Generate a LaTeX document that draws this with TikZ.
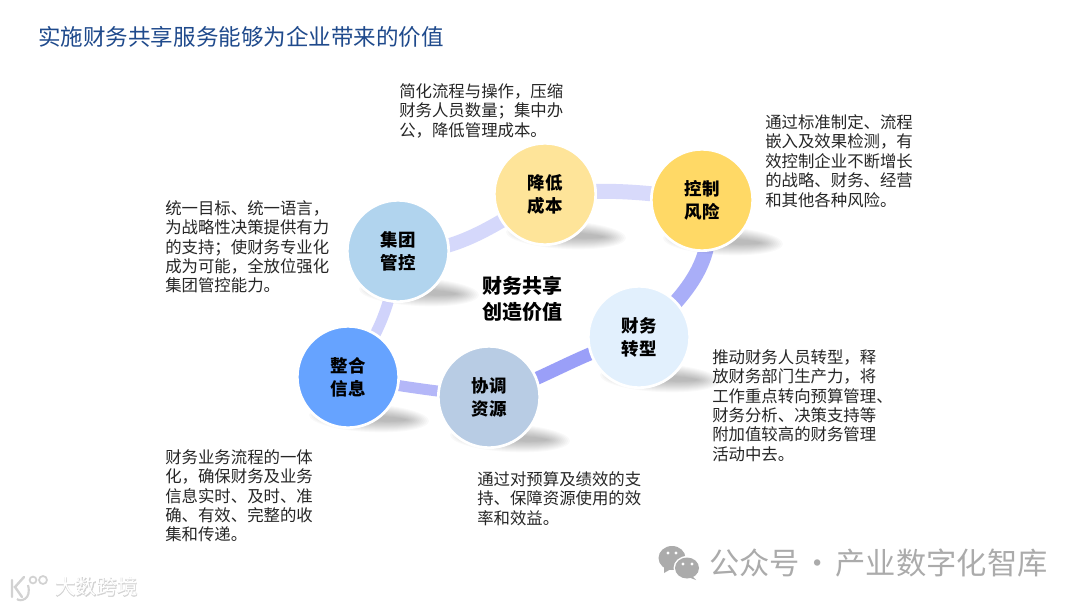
\documentclass[tikz,border=0pt]{standalone}
\usepackage{fontspec}
\setmainfont{Noto Sans CJK SC}
\newfontfamily\wmfont{Noto Sans CJK SC}[FakeBold=2.5]
\usetikzlibrary{fadings}
\definecolor{titleblue}{HTML}{1F4A8C}
\definecolor{bodytext}{HTML}{262626}
\definecolor{wmgray}{HTML}{ABABAB}
\newcommand{\tightlines}{\lineskiplimit -20pt\relax}
\normallineskiplimit -20pt\relax
\AtBeginDocument{\lineskiplimit -20pt\relax}
\tikzset{
  x=0.75pt,y=-0.75pt,
  ball/.style={circle,minimum size=76pt,inner sep=0pt,draw=white,line width=2pt,font=\fontsize{13.1pt}{17.3pt}\selectfont\bfseries\tightlines,align=center,text=black},
  note/.style={anchor=north west,inner sep=0pt,align=left,text=bodytext,font=\fontsize{12.3pt}{14.6pt}\selectfont\tightlines},
  link/.style={line width=#1*0.75pt},
}
\newcommand{\shadowat}[2]{%
  \foreach \k in {1,...,12}{
    \fill[black,opacity=0.025,rotate around={-3:(#1,#2)}] (#1,#2) ellipse ({(36+2*\k)*0.75pt} and {(2+1*\k)*0.75pt});
  }}
\begin{document}
\begin{tikzpicture}
\useasboundingbox (0,0) rectangle (1080,607);
\fill[white] (0,0) rectangle (1080,607);

\coordinate (cA) at (398,251);
\coordinate (cB) at (545,194);
\coordinate (cC) at (702,200);
\coordinate (cD) at (639,337);
\coordinate (cE) at (489,397);
\coordinate (cF) at (348,377);

\draw[link=14,color={rgb,255:red,213;green,216;blue,251}] (cA) to[out=-5,in=212,looseness=0.9] (cB);
\draw[link=15,color={rgb,255:red,216;green,218;blue,251}] (cB) to[out=5,in=172,looseness=1] (cC);
\draw[link=15,color={rgb,255:red,169;green,174;blue,248}] (cC) to[out=-68,in=40,looseness=1] (cD);
\draw[link=13,color={rgb,255:red,154;green,159;blue,248}] (cD) to[out=-165,in=18,looseness=1] (cE);
\draw[link=11,color={rgb,255:red,180;green,183;blue,248}] (cE) to[bend left=2] (cF);
\draw[link=11,color={rgb,255:red,208;green,211;blue,251}] (cF) to[bend right=15] (cA);

\shadowat{419}{292}
\shadowat{566}{235}
\shadowat{723}{241}
\shadowat{660}{378}
\shadowat{369}{418}
\shadowat{510}{438}

\node[ball,fill={rgb,255:red,177;green,212;blue,238}] (jt) at (cA) {集团\\管控};
\node[ball,fill={rgb,255:red,254;green,228;blue,153}] (jd) at (cB) {降低\\成本};
\node[ball,fill={rgb,255:red,255;green,217;blue,102}] (kz) at (cC) {控制\\风险};
\node[ball,fill={rgb,255:red,226;green,240;blue,253}] (zx) at (cD) {财务\\转型};
\node[ball,fill={rgb,255:red,184;green,204;blue,228}] (xt) at (cE) {协调\\资源};
\node[ball,fill={rgb,255:red,102;green,163;blue,255}] (zh) at (cF) {整合\\信息};

\node[anchor=center,inner sep=0pt,align=center,font=\fontsize{15pt}{20pt}\selectfont\bfseries\tightlines,text=black] (ct) at (522,299) {财务共享\\创造价值};

\node[anchor=west,inner sep=0pt,text=titleblue,font=\fontsize{16.9pt}{20pt}\selectfont] (title) at (38,37) {实施财务共享服务能够为企业带来的价值};

\node[note] (n1) at (399,83) {简化流程与操作，压缩\\财务人员数量；集中办\\公，降低管理成本。};
\node[note] (n2) at (765,114) {通过标准制定、流程\\嵌入及效果检测，有\\效控制企业不断增长\\的战略、财务、经营\\和其他各种风险。};
\node[note] (n3) at (165,200) {统一目标、统一语言，\\为战略性决策提供有力\\的支持；使财务专业化\\成为可能，全放位强化\\集团管控能力。};
\node[note] (n4) at (712,349) {推动财务人员转型，释\\放财务部门生产力，将\\工作重点转向预算管理、\\财务分析、决策支持等\\附加值较高的财务管理\\活动中去。};
\node[note] (n5) at (165,449) {财务业务流程的一体\\化，确保财务及业务\\信息实时、及时、准\\确、有效、完整的收\\集和传递。};
\node[note] (n6) at (477,471) {通过对预算及绩效的支\\持、保障资源使用的效\\率和效益。};

% watermark, right
\fill[wmgray] (672,558) ellipse (13.5*0.75pt and 12*0.75pt);
\fill[wmgray] (664,566) -- (664,573) -- (671,569) -- cycle;
\fill[white] (687,568) ellipse (13.5*0.75pt and 12*0.75pt);
\fill[wmgray] (687,568) ellipse (12*0.75pt and 10.5*0.75pt);
\fill[wmgray] (692,576) -- (696,580) -- (688,577) -- cycle;
\fill[white] (668,553) circle (1.6*0.75pt) (676,553) circle (1.6*0.75pt) (683,564) circle (1.6*0.75pt) (692,564) circle (1.6*0.75pt);
\node[anchor=west,inner sep=0pt,text=wmgray,font=\fontsize{22.7pt}{26pt}\selectfont] (wm) at (709,563) {公众号\hspace{2pt}·\hspace{2pt}产业数字化智库};

% watermark, left
\node[anchor=west,inner sep=0pt,text=gray!35,font=\wmfont\fontsize{15.5pt}{18pt}\selectfont] (wl) at (55,587) {大数跨境};
\node[anchor=west,inner sep=0pt,text=white,font=\fontsize{15.5pt}{18pt}\selectfont] (wl2) at (55,587) {大数跨境};
\draw[gray!35,line width=1.8pt,line cap=round] (12,580) -- (12,597) (24,577) -- (15,587) -- (22,597);
\draw[gray!35,line width=1.3pt] (33,580) circle (3.4) (43,580) circle (4);
\draw[gray!35,line width=1.6pt] (28,585) .. controls (32,600) and (20,602) .. (17,599);
\end{tikzpicture}
\end{document}
